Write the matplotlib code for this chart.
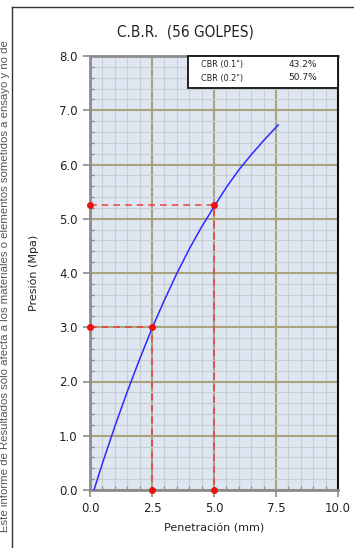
import matplotlib
matplotlib.use("Agg")
import matplotlib.pyplot as plt
from matplotlib.patches import Rectangle
from matplotlib.ticker import MultipleLocator, FormatStrFormatter

# Curva de carga-penetración
penetracion = [0.16, 0.5, 1.0, 1.5, 2.0, 2.5, 3.0, 3.5, 4.0, 4.5, 5.0, 5.5, 6.0, 6.5, 7.0, 7.59]
presion = [0.00, 0.49, 1.17, 1.81, 2.41, 2.98, 3.50, 3.99, 4.44, 4.85, 5.22, 5.58, 5.90, 6.18, 6.44, 6.73]

# Puntos de lectura a 0.1" (2.54 mm) y 0.2" (5.08 mm)
lectura_pen = [2.5, 5.0]
lectura_pres = [3.0, 5.25]

cbr_labels = ['CBR (0.1")', 'CBR (0.2")']
cbr_values = ["43.2%", "50.7%"]

plt.rcParams['font.family'] = ['DejaVu Sans']

fig = plt.figure(figsize=(3.54, 5.48), dpi=100)
ax = fig.add_axes([90 / 354, 1 - 490 / 548, 248 / 354, 434 / 548])
ax.set_facecolor("#dde6f1")

ax.set_xlim(0, 10)
ax.set_ylim(0, 8)
ax.xaxis.set_major_locator(MultipleLocator(2.5))
ax.xaxis.set_minor_locator(MultipleLocator(0.5))
ax.yaxis.set_major_locator(MultipleLocator(1.0))
ax.yaxis.set_minor_locator(MultipleLocator(0.2))
ax.xaxis.set_major_formatter(FormatStrFormatter("%.1f"))
ax.yaxis.set_major_formatter(FormatStrFormatter("%.1f"))

ax.grid(which="minor", color="#c9cdd2", lw=0.8, zorder=0)
ax.grid(which="major", color="#aaa47c", lw=1.5, zorder=1)
ax.set_axisbelow(True)

ax.tick_params(which="major", direction="out", length=5, width=1.2, color="#8c8c8c",
               labelsize=8.5, labelcolor="#222222", pad=4)
ax.tick_params(which="minor", direction="in", length=3, width=1, color="#8c8c8c")
for s in ["left", "bottom", "top"]:
    ax.spines[s].set_color("#8c8c8c")
    ax.spines[s].set_linewidth(2)
ax.spines["right"].set_color("#111111")
ax.spines["right"].set_linewidth(1.5)

ax.plot(penetracion, presion, color="#2b2bff", lw=1.1, zorder=4)

for p, q in zip(lectura_pen, lectura_pres):
    ax.plot([0, p, p], [q, q, 0], color="#ee3333", lw=1.2, ls=(0, (4, 3)), alpha=0.85, zorder=3)
    ax.plot([0, p, p], [q, q, 0], ls="none", marker="o", ms=4, color="#ee1111",
            clip_on=False, zorder=5)

ax.set_xlabel("Penetración (mm)", fontsize=8, color="#222222", labelpad=6)
ax.set_ylabel("Presión (Mpa)", fontsize=8, color="#222222", labelpad=14)

# Cuadro de resultados CBR
box = Rectangle((188 / 354, 1 - 88 / 548), 150 / 354, 32 / 548, transform=fig.transFigure,
                facecolor="white", edgecolor="#111111", lw=1.3, zorder=6)
fig.patches.append(box)
for i, (lab, val) in enumerate(zip(cbr_labels, cbr_values)):
    y = 1 - (65 + 13 * i) / 548
    fig.text(201 / 354, y, lab, fontsize=6.5, va="center", ha="left", color="#222222",
             fontstretch="condensed", zorder=7)
    fig.text(317 / 354, y, val, fontsize=6.5, va="center", ha="right", color="#222222", zorder=7)

fig.text(185 / 354, 1 - 32 / 548, "C.B.R.  (56 GOLPES)", fontsize=11, ha="center", va="center",
         color="#222222", fontstretch="condensed")

# Marco del informe y nota lateral
fig.add_artist(plt.Line2D([12 / 354, 12 / 354], [0, 1 - 7 / 548], transform=fig.transFigure,
                          color="#333333", lw=1))
fig.add_artist(plt.Line2D([12 / 354, 1], [1 - 7 / 548, 1 - 7 / 548], transform=fig.transFigure,
                          color="#333333", lw=1))
fig.text(5 / 354, 1 - 532 / 548,
         "Este informe de Resultados sólo afecta a los materiales o elementos sometidos a ensayo y no de",
         rotation=90, fontsize=8.2, ha="center", va="bottom", color="#555555",
         family=["Liberation Sans Narrow", "Liberation Sans"])

fig.savefig("out.png", dpi=100)
